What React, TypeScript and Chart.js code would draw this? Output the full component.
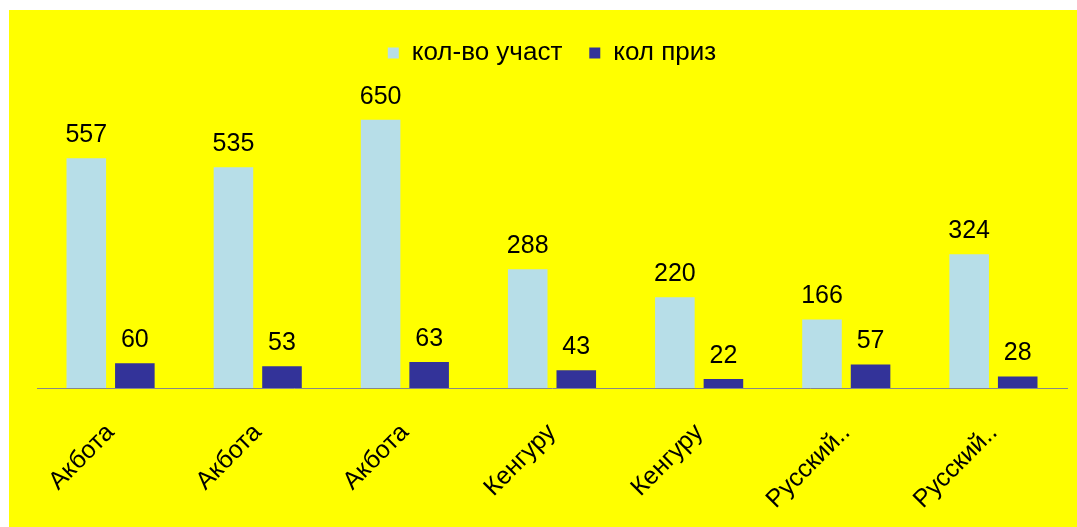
import React, { useEffect, useRef } from "react";
import { Chart, registerables } from "chart.js";

Chart.register(...registerables);

const categories = ["Акбота", "Акбота", "Акбота", "Кенгуру", "Кенгуру", "Русский..", "Русский.."];
const participants = [557, 535, 650, 288, 220, 166, 324];
const prizes = [60, 53, 63, 43, 22, 57, 28];
const seriesNames = ["кол-во участ", "кол приз"];

const FONT = "'Liberation Sans', Arial, sans-serif";

const valueLabels = {
  id: "valueLabels",
  afterDatasetsDraw(chart: any) {
    const ctx = chart.ctx;
    ctx.save();
    ctx.font = `25px ${FONT}`;
    ctx.fillStyle = "#000000";
    ctx.textAlign = "center";
    ctx.textBaseline = "alphabetic";
    chart.data.datasets.forEach((ds: any, i: number) => {
      const meta = chart.getDatasetMeta(i);
      meta.data.forEach((bar: any, j: number) => {
        ctx.fillText(String(ds.data[j]), bar.x, bar.y - 16);
      });
    });
    ctx.restore();
  },
};

export default function App() {
  const ref = useRef<HTMLCanvasElement | null>(null);
  useEffect(() => {
    document.body.style.margin = "0";
    if (!ref.current) return;
    const chart = new Chart(ref.current, {
      type: "bar",
      data: {
        labels: categories,
        datasets: [
          {
            label: seriesNames[0],
            data: participants,
            backgroundColor: "#B7DEE8",
            categoryPercentage: 0.66,
            barPercentage: 0.815,
          },
          {
            label: seriesNames[1],
            data: prizes,
            backgroundColor: "#333399",
            categoryPercentage: 0.66,
            barPercentage: 0.815,
          },
        ],
      },
      options: {
        animation: false,
        responsive: false,
        layout: { padding: { left: 28, right: 10, top: 3, bottom: 0 } },
        plugins: {
          legend: {
            position: "top",
            labels: {
              boxWidth: 11,
              boxHeight: 11,
              padding: 27,
              color: "#000000",
              font: { size: 26, family: FONT },
            },
          },
          tooltip: { enabled: false },
        },
        scales: {
          x: {
            grid: { display: false, drawTicks: false },
            border: { display: true, color: "#888888", width: 1 },
            ticks: {
              minRotation: 45,
              maxRotation: 45,
              autoSkip: false,
              color: "#000000",
              padding: 30,
              font: { size: 25, family: FONT },
            },
            afterFit: (scale: any) => {
              scale.height = 139;
            },
          },
          y: {
            display: false,
            min: 0,
            max: 756,
          },
        },
      },
      plugins: [valueLabels],
    });
    return () => chart.destroy();
  }, []);
  return (
    <div
      style={{
        position: "absolute",
        left: 9,
        top: 10,
        width: 1068,
        height: 517,
        background: "#FFFF00",
      }}
    >
      <canvas ref={ref} width={1068} height={517} />
    </div>
  );
}
